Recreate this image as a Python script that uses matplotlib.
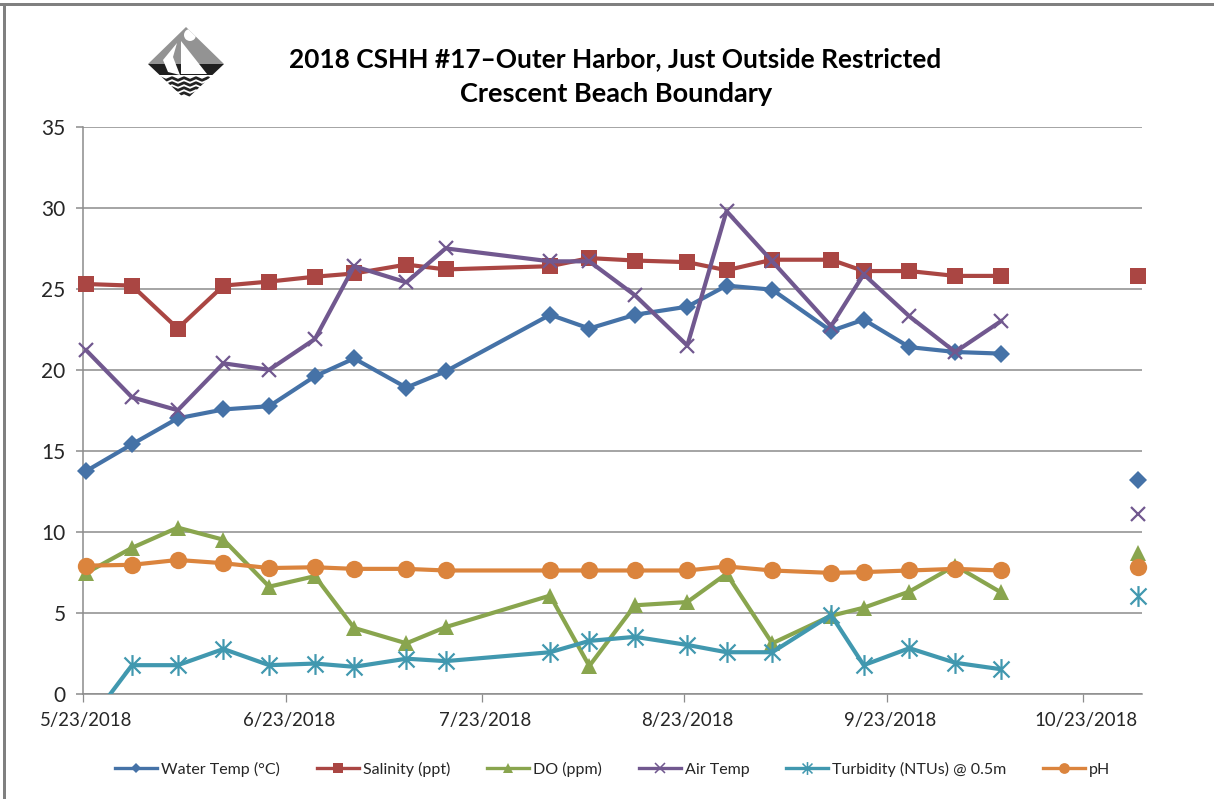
import datetime as dt
import matplotlib
matplotlib.use('Agg')
import matplotlib.pyplot as plt
import matplotlib.dates as mdates
from matplotlib.lines import Line2D
from matplotlib.patches import Polygon, Circle, Rectangle
from matplotlib.path import Path

plt.rcParams['font.family'] = ['Lato', 'DejaVu Sans']

W, H = 1214, 799

# dates of the samples (the last one stands alone at the right)
sample_days = ['2018-05-23', '2018-05-30', '2018-06-06', '2018-06-13', '2018-06-20', '2018-06-27',
               '2018-07-03', '2018-07-11', '2018-07-17', '2018-08-02', '2018-08-08', '2018-08-15',
               '2018-08-23', '2018-08-29', '2018-09-05', '2018-09-14', '2018-09-19', '2018-09-26',
               '2018-10-03', '2018-10-10', '2018-10-31']
tick_days = ['2018-05-23', '2018-06-23', '2018-07-23', '2018-08-23', '2018-09-23', '2018-10-23']
tick_labels = ['5/23/2018', '6/23/2018', '7/23/2018', '8/23/2018', '9/23/2018', '10/23/2018']

water = [13.75, 15.4, 17.0, 17.55, 17.75, 19.6, 20.7, 18.9, 19.9, 23.4, 22.55,
         23.4, 23.9, 25.2, 24.95, 22.4, 23.1, 21.4, 21.1, 21.0, 13.2]
salinity = [25.3, 25.2, 22.55, 25.2, 25.45, 25.75, 25.95, 26.5, 26.2, 26.4, 26.9,
            26.75, 26.65, 26.15, 26.8, 26.8, 26.1, 26.1, 25.8, 25.8, 25.8]
do = [7.45, 9.0, 10.25, 9.5, 6.6, 7.25, 4.05, 3.1, 4.1, 6.05, 1.7,
      5.45, 5.65, 7.4, 3.1, 4.8, 5.3, 6.3, 7.9, 6.25, 8.7]
air = [21.2, 18.3, 17.5, 20.4, 20.0, 21.9, 26.4, 25.4, 27.5, 26.7, 26.7,
       24.6, 21.5, 29.8, 26.7, 22.7, 25.9, 23.3, 21.1, 23.0, 11.1]
turbidity = [-2.0, 1.75, 1.75, 2.75, 1.75, 1.85, 1.65, 2.15, 2.0, 2.55, 3.25,
             3.5, 3.0, 2.55, 2.55, 4.85, 1.75, 2.8, 1.9, 1.5, 6.0]
ph = [7.9, 7.95, 8.25, 8.05, 7.75, 7.8, 7.7, 7.7, 7.6, 7.6, 7.6,
      7.6, 7.6, 7.85, 7.6, 7.45, 7.5, 7.6, 7.7, 7.6, 7.8]

# excel's star marker: an x with a vertical stroke through it
star = Path([(-1, -1), (1, 1), (-1, 1), (1, -1), (0, -1.3), (0, 1.3)],
            [Path.MOVETO, Path.LINETO, Path.MOVETO, Path.LINETO, Path.MOVETO, Path.LINETO])

series = [
    ('Water Temp (°C)', water, '#4572A7', 'D', 9),
    ('Salinity (ppt)', salinity, '#AA4643', 's', 11.5),
    ('DO (ppm)', do, '#89A54E', '^', 12),
    ('Air Temp', air, '#71588F', 'x', 10.5),
    ('Turbidity (NTUs) @ 0.5m', turbidity, '#4198AF', star, 15),
    ('pH', ph, '#DB843D', 'o', 12.5),
]

x = [dt.date.fromisoformat(d) for d in sample_days]
ticks = [dt.date.fromisoformat(d) for d in tick_days]

fig = plt.figure(figsize=(W / 100, H / 100), dpi=100)
ax = fig.add_axes([83 / W, 1 - 693.5 / H, (1142 - 83) / W, (693.5 - 127) / H])

handles = []
for name, vals, col, mk, ms in series:
    hollow = mk == 'x' or mk is star
    mew = 1.6 if hollow else 0
    # only the turbidity line runs under the axis and has to be cut off there
    cut = name.startswith('Turbidity')
    ax.plot(x[:-1], vals[:-1], color=col, lw=3, marker=mk, ms=ms, mew=mew, mec=col,
            clip_on=cut, zorder=3, solid_joinstyle='round')
    ax.plot(x[-1:], vals[-1:], ls='none', color=col, marker=mk, ms=ms, mew=mew, mec=col,
            clip_on=False, zorder=3)
    handles.append(Line2D([], [], color=col, lw=2.4, marker=mk, ms=ms * 0.62,
                          mew=mew * 0.7, mec=col, label=name))

d0 = mdates.date2num(x[0])
ax.set_xlim(d0 - 0.46, d0 + 161.6)
ax.set_ylim(0, 35)
ax.set_yticks(range(0, 36, 5))
ax.grid(axis='y', color='#8c8c8c', lw=1.1)
ax.set_axisbelow(True)

# tick marks sit half a day before the label, as on the excel date axis
ax.set_xticks([mdates.date2num(t) - 0.5 for t in ticks])
ax.set_xticklabels([])
ax.set_xticks([mdates.date2num(t) for t in ticks], minor=True)
ax.set_xticklabels(tick_labels, minor=True)
ax.tick_params(axis='x', which='major', length=5.5, width=0.9, color='#8c8c8c')
ax.tick_params(axis='x', which='minor', length=0, pad=13, labelsize=13.4, labelcolor='#262626')
ax.tick_params(axis='y', length=5, width=1.1, color='#8c8c8c', pad=7.5, labelsize=15, labelcolor='#262626')
for side in ['top', 'right']:
    ax.spines[side].set_visible(False)
for side in ['left', 'bottom']:
    ax.spines[side].set_color('#8c8c8c')
    ax.spines[side].set_linewidth(1.1)

fig.text(615.5 / W, 1 - 59 / H, '2018 CSHH #17–Outer Harbor, Just Outside Restricted',
         ha='center', va='center', fontsize=18.9, fontweight='bold', color='black')
fig.text(616 / W, 1 - 94 / H, 'Crescent Beach Boundary',
         ha='center', va='center', fontsize=19.5, fontweight='bold', color='black')

fig.legend(handles=handles, ncols=6, loc='center', bbox_to_anchor=(613 / W, 1 - 769 / H),
           frameon=False, fontsize=11.5, handlelength=2.63, handletextpad=0.25,
           columnspacing=2.3, labelcolor='#262626')

# frame round the chart area
fig.add_artist(Rectangle((0, 1 - 6 / H), 1, 3 / H, transform=fig.transFigure, color='#808080', lw=0))
fig.add_artist(Rectangle((3 / W, 0), 2.5 / W, 1 - 3 / H, transform=fig.transFigure, color='#808080', lw=0))

# logo in pixel coordinates
logo = fig.add_axes([148 / W, 1 - 100 / H, 76 / W, 73 / H])
logo.set_xlim(148, 224)
logo.set_ylim(100, 27)
logo.axis('off')
diamond = Polygon([(186, 27), (224, 64), (186, 100), (148, 64)], closed=True, color='white', lw=0)
logo.add_patch(diamond)
parts = [
    logo.add_patch(Rectangle((148, 27), 76, 37, color='#939393', lw=0)),
    logo.add_patch(Rectangle((148, 64), 76, 11, color='#1f1f1f', lw=0)),
    logo.add_patch(Circle((190, 35), 6, color='white', lw=0)),
    logo.add_patch(Polygon([(181, 41), (207, 74), (181, 74)], color='white', lw=0)),
    logo.add_patch(Polygon([(177, 43), (173, 57), (180, 75), (168, 72), (163, 60)], color='white', lw=0)),
]
zig_x = [160, 166, 172, 178, 184, 190, 196, 202, 208, 214]
for wave_y in [79, 84, 89, 94]:
    zig_y = [wave_y + (1.3 if i % 2 else -1.3) for i in range(len(zig_x))]
    parts.extend(logo.plot(zig_x, zig_y, color='#222222', lw=2))
for p in parts:
    p.set_clip_path(diamond)

fig.savefig('out.png', dpi=100, facecolor='white')
